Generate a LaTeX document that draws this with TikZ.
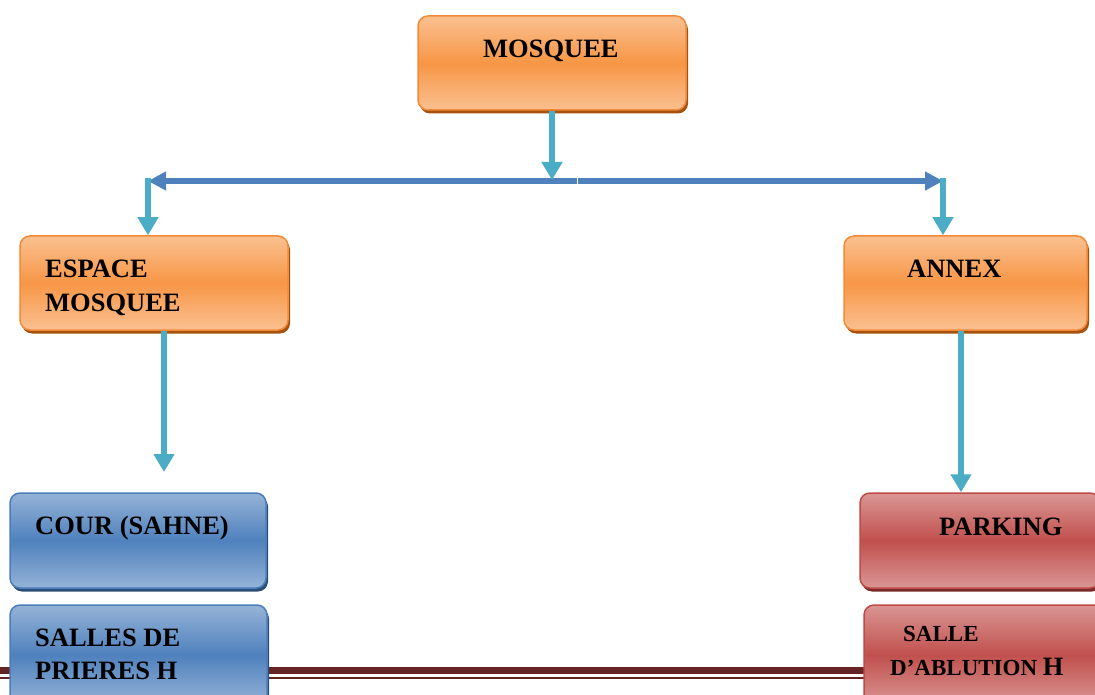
\documentclass[tikz,border=0pt]{standalone}
\usepackage{fontspec}
\setmainfont{Liberation Serif}
\usetikzlibrary{arrows.meta,shadows}
\definecolor{omid}{HTML}{F79646}
\definecolor{olight}{HTML}{FAC090}
\definecolor{oborder}{HTML}{F38A38}
\definecolor{oshadow}{HTML}{A5520F}
\definecolor{bmid}{HTML}{4F81BD}
\definecolor{blight}{HTML}{95B3D7}
\definecolor{bborder}{HTML}{4A7EBB}
\definecolor{bshadow}{HTML}{2C4D75}
\definecolor{rmid}{HTML}{C0504D}
\definecolor{rlight}{HTML}{DA9694}
\definecolor{rborder}{HTML}{BE4B48}
\definecolor{rshadow}{HTML}{7A2A28}
\definecolor{cyanarrow}{HTML}{4BACC6}
\definecolor{bluearrow}{HTML}{4F81BD}
\definecolor{rule}{HTML}{632423}
\tikzset{
  boxbase/.style={rectangle, rounded corners=10pt, line width=1.5pt, inner sep=0pt},
  obox/.style={boxbase, draw=oborder, top color=olight, bottom color=olight, middle color=omid,
     drop shadow={shadow xshift=2pt, shadow yshift=-3.5pt, fill=oshadow, opacity=1}},
  bbox/.style={boxbase, draw=bborder, top color=blight, bottom color=blight, middle color=bmid,
     drop shadow={shadow xshift=2pt, shadow yshift=-3.5pt, fill=bshadow, opacity=1}},
  rbox/.style={boxbase, draw=rborder, top color=rlight, bottom color=rlight, middle color=rmid,
     drop shadow={shadow xshift=2pt, shadow yshift=-3.5pt, fill=rshadow, opacity=1}},
  lbl/.style={anchor=base west, inner sep=0pt, font=\fontsize{26.5}{34}\selectfont\bfseries},
  slbl/.style={lbl, font=\fontsize{23}{30}\selectfont\bfseries},
  carrow/.style={draw=cyanarrow, line width=6pt, -{Triangle[width=20pt,length=18pt]}},
  barrow/.style={draw=bluearrow, line width=5.5pt, -{Triangle[width=18pt,length=18pt]}},
}
\begin{document}
\begin{tikzpicture}[x=1pt,y=-1pt]
\useasboundingbox (0,0) rectangle (1095,695);
\clip (0,0) rectangle (1095,695);
% footer rule
\draw[rule, line width=7pt] (0,670.5) -- (1095,670.5);
\draw[rule, line width=1.5pt] (0,678) -- (1095,678);
% boxes
\node[obox, minimum width=268pt, minimum height=94pt] (mosquee) at (552,63) {};
\node[obox, minimum width=268pt, minimum height=94pt] (espace) at (154,283) {};
\node[obox, minimum width=243pt, minimum height=94pt] (annex) at (965.5,283) {};
\node[bbox, minimum width=256pt, minimum height=95pt] (cour) at (138,540.5) {};
\node[bbox, minimum width=257pt, minimum height=100pt] (salles) at (138.5,655) {};
\node[rbox, minimum width=240pt, minimum height=95pt] (parking) at (980,540.5) {};
\node[rbox, minimum width=240pt, minimum height=100pt] (ablution) at (984,655) {};
% texts
\node[lbl] (tmosquee) at (483,58) {MOSQUEE};
\node[lbl] (tespace1) at (45,277) {ESPACE};
\node[lbl] (tespace2) at (45,311) {MOSQUEE};
\node[lbl] (tannex) at (907,277) {ANNEX};
\node[lbl] (tcour) at (35,534) {COUR (SAHNE)};
\node[lbl] (tsalles1) at (35,646) {SALLES DE};
\node[lbl] (tsalles2) at (35,679) {PRIERES H};
\node[lbl] (tparking) at (939,535) {PARKING};
\node[slbl] (tsalle1) at (903,641) {SALLE};
\node[slbl] (tsalle2) at (890,675) {D’ABLUTION {\fontsize{26.5}{30}\selectfont H}};
% connectors
\coordinate (j) at (552,181);
\coordinate (jl0) at (577,181);
\coordinate (jr0) at (577.8,181);
\coordinate (jl) at (148,181);
\coordinate (jr) at (943,181);
\coordinate (eend) at (164,472);
\draw[barrow] (jl0) -- (jl);
\draw[barrow] (jr0) -- (jr);
\draw[carrow] (mosquee.south -| j) -- ([yshift=1pt]j);
\draw[carrow, shorten <=-2.5pt] (jl) -- (espace.north -| jl);
\draw[carrow, shorten <=-2.5pt] (jr) -- (annex.north -| jr);
\draw[carrow] (espace.south -| eend) -- (eend);
\draw[carrow] (annex.south -| 961,0) -- (parking.north -| 961,0);
\end{tikzpicture}
\end{document}
